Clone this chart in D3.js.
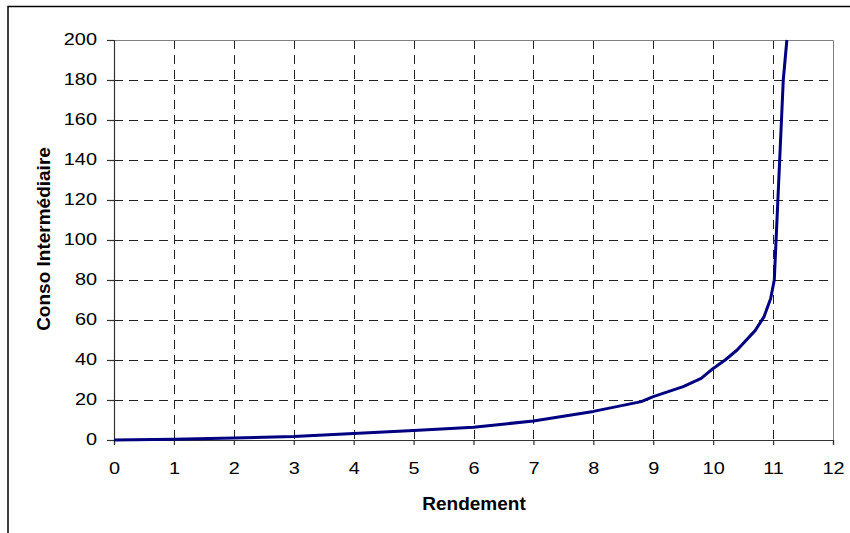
<!DOCTYPE html>
<html>
<head>
<meta charset="utf-8">
<script src="https://cdn.jsdelivr.net/npm/d3@7"></script>
<style>
  html, body { margin: 0; padding: 0; background: #fff; }
  svg { display: block; font-family: "Liberation Sans", Arial, sans-serif; }
</style>
</head>
<body>
<svg id="chart" width="850" height="533"></svg>
<script>
// Rendement vs consommation intermédiaire
const rendement = [0, 1, 2, 3, 4, 5, 6, 7, 8, 8.8, 9, 9.5, 9.8, 10, 10.2, 10.4, 10.5, 10.7, 10.85, 10.96, 11.02, 11.17, 11.23];
const conso     = [0, 0.4, 1, 1.7, 3.3, 4.8, 6.4, 9.5, 14.3, 19.2, 21.7, 26.7, 30.8, 35.8, 40, 45, 48.3, 54.7, 61.7, 70.8, 80, 180, 200];
const xTicks = [0, 1, 2, 3, 4, 5, 6, 7, 8, 9, 10, 11, 12];
const yTicks = [0, 20, 40, 60, 80, 100, 120, 140, 160, 180, 200];

const svg = d3.select("#chart");
const plotL = 114, plotR = 833, plotT = 40, plotB = 440;
const tickFont = 17, tickStretch = 1.17;

const x = d3.scaleLinear().domain([0, 12]).range([plotL, plotR]);
const y = d3.scaleLinear().domain([0, 200]).range([plotB, plotT]);

// outer frame (top and left edges visible)
svg.append("path")
  .attr("d", `M8,533 L8,6.5 L850,6.5`)
  .attr("fill", "none").attr("stroke", "#000").attr("stroke-width", 1.5);

// dashed grid
svg.append("g").selectAll("line").data(yTicks.filter(d => d > 0 && d < 200)).join("line")
  .attr("x1", plotL).attr("x2", plotR)
  .attr("y1", d => Math.round(y(d)) + 0.5).attr("y2", d => Math.round(y(d)) + 0.5)
  .attr("stroke", "#222").attr("stroke-dasharray", "9,6");
svg.append("g").selectAll("line").data(xTicks.filter(d => d > 0 && d < 12)).join("line")
  .attr("y1", plotT).attr("y2", plotB)
  .attr("x1", d => Math.round(x(d)) + 0.5).attr("x2", d => Math.round(x(d)) + 0.5)
  .attr("stroke", "#222").attr("stroke-dasharray", "9,6");

// plot area top and right edges
svg.append("path")
  .attr("d", `M${plotL},${plotT + 0.5} L${plotR + 0.5},${plotT + 0.5} L${plotR + 0.5},${plotB}`)
  .attr("fill", "none").attr("stroke", "#808080").attr("stroke-width", 1);

// axes
const xAxis = svg.append("g").attr("transform", `translate(0,${plotB})`)
  .call(d3.axisBottom(x).tickValues(xTicks).tickFormat(d3.format("d")).tickSize(5).tickPadding(17));
const yAxis = svg.append("g").attr("transform", `translate(${plotL},0)`)
  .call(d3.axisLeft(y).tickValues(yTicks).tickFormat(d3.format("d")).tickSize(7).tickPadding(10));
[xAxis, yAxis].forEach(g => {
  g.selectAll("path, line").attr("stroke", "#333").attr("stroke-width", 1.2);
  g.selectAll("text").attr("font-size", tickFont).attr("fill", "#000")
    .attr("font-family", "'Liberation Sans', Arial, sans-serif")
    .attr("transform", `scale(${tickStretch},1)`);
});
yAxis.selectAll("text").attr("x", -17 / tickStretch).attr("dy", "0.26em");

// curve
const line = d3.line().x((d, i) => x(rendement[i])).y(d => y(d));
svg.append("path")
  .datum(conso)
  .attr("d", line)
  .attr("fill", "none")
  .attr("stroke", "#000080")
  .attr("stroke-width", 3)
  .attr("stroke-linejoin", "round");

// axis titles
svg.append("text")
  .attr("x", 474).attr("y", 510)
  .attr("text-anchor", "middle")
  .attr("font-size", 19).attr("font-weight", "bold")
  .text("Rendement");
svg.append("text")
  .attr("transform", "translate(50,239) rotate(-90)")
  .attr("text-anchor", "middle")
  .attr("font-size", 19).attr("font-weight", "bold")
  .text("Conso Intermédiaire");
</script>
</body>
</html>
